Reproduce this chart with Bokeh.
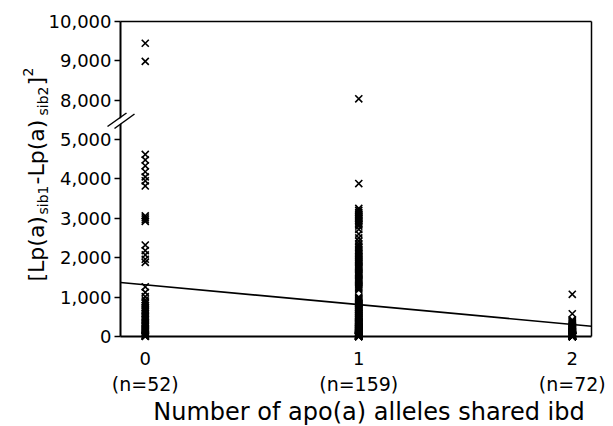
import math
from bokeh.plotting import figure
from bokeh.models import Range1d, LinearAxis, FixedTicker, Label, Arrow, ColumnDataSource
from bokeh.embed import file_html
from bokeh.resources import INLINE

# ---------------- data ----------------
groups = [0, 1, 2]
group_labels = ["0", "1", "2"]
n_labels = ["(n=52)", "(n=159)", "(n=72)"]

values_0 = [9440, 8980,
            4620, 4480, 4330, 4180, 4050, 3950, 3820,
            3060, 3010, 2960, 2920,
            2320, 2180, 2070, 1960, 1880,
            1260, 1120, 1010, 930, 880, 840, 790, 740, 700, 660,
            620, 580, 540, 500, 470, 430, 400, 360, 330, 300,
            270, 240, 210, 180, 150, 120, 100, 80, 60, 40,
            25, 15, 8, 3]

values_1 = [8030, 3880,
            3250, 3200, 3150, 3110, 3080, 3050, 3020, 3000, 2980, 2950,
            2920, 2880, 2840, 2800, 2720, 2600, 2500, 2420, 2350, 2300,
            2260, 2220, 2180, 2140, 2100, 2070, 2040, 2010, 1990, 1960,
            1930, 1900, 1870, 1840, 1810, 1780, 1750, 1720, 1690, 1660,
            1630, 1600, 1570, 1540, 1510, 1480, 1450, 1420, 1390, 1360,
            1330, 1300, 1270, 1240, 1210, 1180,
            1000, 980, 960, 940, 920, 900, 880, 860, 840, 820,
            800, 780, 760, 740, 720, 700, 690, 680, 660, 640,
            620, 600, 590, 580, 560, 540, 520, 500, 490, 480,
            460, 440, 420, 400, 390, 380, 370, 360, 350, 340,
            330, 320, 310, 300, 290, 280, 270, 260, 250, 240,
            230, 220, 210, 200, 195, 190, 180, 170, 160, 150,
            145, 140, 130, 120, 115, 110, 100, 95, 90, 85,
            80, 75, 70, 65, 60, 55, 50, 45, 40, 38,
            35, 32, 30, 28, 25, 22, 20, 18, 15, 12,
            10, 9, 8, 7, 6, 5, 4, 3, 2, 1, 0]

values_2 = [1070, 577,
            420, 400, 380, 360, 340, 320, 300, 285, 270, 255,
            240, 225, 210, 200, 190, 180, 170, 160, 150, 140,
            130, 122, 115, 108, 100, 94, 88, 82, 76, 70,
            65, 60, 56, 52, 48, 44, 40, 37, 34, 31,
            28, 26, 24, 22, 20, 18, 16, 14, 12, 11,
            10, 9, 8, 7, 6, 5, 5, 4, 4, 3,
            3, 2, 2, 2, 1, 1, 1, 0, 0, 0]

# regression line (value = intercept + slope * alleles)
reg_intercept = 1312
reg_slope = -503

# y axis: broken between 5,000 and 8,000
low_ticks = [0, 1000, 2000, 3000, 4000, 5000]
high_ticks = [8000, 9000, 10000]
break_low = 5000
break_high = 8000


def to_display(v):
    # values above the break are shifted down so that 8,000 sits one tick above 5,000
    return v if v <= break_low else v - (break_high - break_low) + 1000


def fmt(v):
    return f"{v:,}"


# ---------------- layout ----------------
FONT = "DejaVu Sans"
W, H = 613, 426
# plot box (data) and where it sits on the canvas (pixels from top-left)
X_LO, X_HI = -0.116, 2.090
Y_LO, Y_HI = 0, 8000
BOX_L, BOX_R, BOX_T, BOX_B = 120, 591, 20.7, 336

SX = (BOX_R - BOX_L) / (X_HI - X_LO)      # px per x unit
SY = (BOX_B - BOX_T) / (Y_HI - Y_LO)      # px per y unit
x_start = X_LO - BOX_L / SX
x_end = X_HI + (W - BOX_R) / SX
y_start = Y_LO - (H - BOX_B) / SY
y_end = Y_HI + BOX_T / SY


def PX(px):
    return x_start + px / SX


def PY(py):
    return y_end - py / SY


p = figure(width=W, height=H, x_range=Range1d(x_start, x_end), y_range=Range1d(y_start, y_end),
           output_backend="svg", toolbar_location=None, min_border=0)
p.xgrid.visible = False
p.ygrid.visible = False
p.outline_line_color = None
p.background_fill_color = "white"
p.border_fill_color = "white"

# scatter
xs, ys = [], []
for g, vals in zip(groups, [values_0, values_1, values_2]):
    for v in vals:
        xs.append(g)
        ys.append(to_display(v))
src = ColumnDataSource(dict(x=xs, y=ys))
p.scatter("x", "y", source=src, marker="x", size=10, line_color="black", line_width=1.6)

# regression line across the plot box
p.line([X_LO, X_HI], [reg_intercept + reg_slope * X_LO, reg_intercept + reg_slope * X_HI],
       line_color="black", line_width=1.6)

# y axis
yax = p.yaxis[0]
yax.fixed_location = X_LO
yax.bounds = (Y_LO, Y_HI)
yax.ticker = FixedTicker(ticks=[to_display(v) for v in low_ticks + high_ticks])
yax.major_label_overrides = {to_display(v): fmt(v) for v in low_ticks + high_ticks}
yax.major_label_text_font = FONT
yax.major_label_text_font_size = "18px"
yax.major_label_text_color = "black"
yax.major_label_standoff = 3
yax.major_tick_out = 6
yax.major_tick_in = 0
yax.major_tick_line_width = 1.5
yax.minor_tick_line_color = None
yax.axis_line_width = 2
yax.axis_line_color = "black"

# x axis: tick numbers
xax = p.xaxis[0]
xax.fixed_location = Y_LO
xax.bounds = (X_LO, X_HI)
xax.ticker = FixedTicker(ticks=groups)
xax.major_label_overrides = {g: s for g, s in zip(groups, group_labels)}
xax.major_label_text_font = FONT
xax.major_label_text_font_size = "18px"
xax.major_label_text_color = "black"
xax.major_label_standoff = 15
xax.major_tick_out = 0
xax.major_tick_in = 0
xax.minor_tick_out = 0
xax.minor_tick_in = 0
xax.major_tick_line_color = None
xax.minor_tick_line_color = None
xax.axis_line_width = 2
xax.axis_line_color = "black"

# x axis: group sizes and title
shift = 12.5 / SX
xax2 = LinearAxis(ticker=FixedTicker(ticks=groups), fixed_location=Y_LO,
                  bounds=(X_LO + shift, X_HI + shift),
                  major_label_overrides={g: s for g, s in zip(groups, n_labels)},
                  axis_label="Number of apo(a) alleles shared ibd")
xax2.major_label_text_font = FONT
xax2.major_label_text_font_size = "19px"
xax2.major_label_text_color = "black"
xax2.major_label_standoff = 36
xax2.major_tick_out = 0
xax2.major_tick_in = 0
xax2.minor_tick_out = 0
xax2.minor_tick_in = 0
xax2.major_tick_line_color = None
xax2.minor_tick_line_color = None
xax2.axis_line_color = None
xax2.axis_label_text_font = FONT
xax2.axis_label_text_font_size = "24px"
xax2.axis_label_text_font_style = "normal"
xax2.axis_label_text_color = "black"
xax2.axis_label_standoff = 0
p.add_layout(xax2, "below")

# top and right edges of the box
top = LinearAxis(ticker=FixedTicker(ticks=[]), fixed_location=Y_HI, bounds=(X_LO, X_HI),
                 axis_line_width=1.5, axis_line_color="black",
                 major_tick_line_color=None, minor_tick_line_color=None,
                 major_label_text_font_size="0px")
p.add_layout(top, "above")
right = LinearAxis(ticker=FixedTicker(ticks=[]), fixed_location=X_HI, bounds=(Y_LO, Y_HI),
                   axis_line_width=1.5, axis_line_color="black",
                   major_tick_line_color=None, minor_tick_line_color=None,
                   major_label_text_font_size="0px")
p.add_layout(right, "right")


# axis break marks (pixel positions on the canvas)
def seg(a, b, color, width):
    p.add_layout(Arrow(end=None, start=None,
                       x_start=PX(a[0]), y_start=PY(a[1]), x_end=PX(b[0]), y_end=PY(b[1]),
                       line_color=color, line_width=width))


seg((111, 127), (129, 114), "white", 4.5)
seg((107, 126), (126, 112.5), "black", 1.5)
seg((114, 128), (134, 113.5), "black", 1.5)

# y axis title built from pieces (sub/superscripts); (text, font px, baseline x px, start y px)
pieces = [
    ("[Lp(a)", 22, 36, 281),
    ("sib1", 14, 42, 214),
    ("-Lp(a)", 22, 36, 184),
    ("sib2", 14, 42, 115),
    ("]", 22, 36, 85),
    ("2", 14, 27, 76),
]
for text, size, bx, sy in pieces:
    p.add_layout(Label(x=PX(bx), y=PY(sy), text=text, angle=math.pi / 2,
                       text_font=FONT, text_font_size=f"{size}px", text_color="black",
                       text_align="left", text_baseline="alphabetic"))

open("out.html", "w").write(file_html(p, INLINE))
